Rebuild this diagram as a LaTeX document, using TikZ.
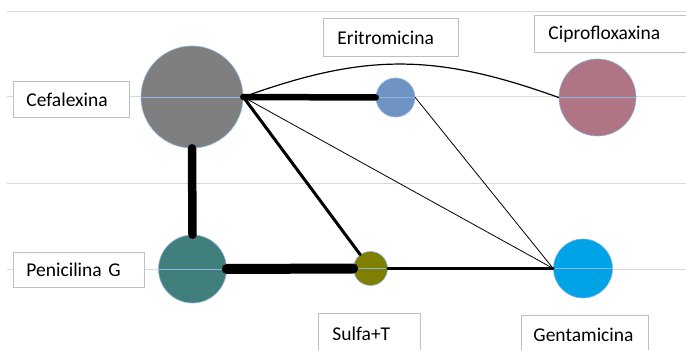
\documentclass[tikz,border=0pt]{standalone}
\usepackage{fontspec}
\setmainfont{Carlito}
\definecolor{gridc}{RGB}{217,217,217}
\definecolor{boxc}{RGB}{191,191,191}
\definecolor{rimc}{RGB}{141,180,226}
\definecolor{cefc}{RGB}{127,127,127}
\definecolor{eritc}{RGB}{111,148,196}
\definecolor{ciproc}{RGB}{176,117,133}
\definecolor{penc}{RGB}{65,127,124}
\definecolor{sulfac}{RGB}{128,128,0}
\definecolor{gentc}{RGB}{0,163,230}
\tikzset{
  gridline/.style={draw=gridc, line width=1pt},
  lbl/.style={draw=boxc, line width=0.9pt, fill=white, anchor=north west, inner ysep=0pt,
    align=left, font=\fontsize{19.5}{23}\selectfont, text=black},
  drug/.style={circle, draw=rimc, line width=0.6pt, inner sep=0pt},
  diam/.style={draw=rimc, line width=0.9pt},
  edge/.style={draw=black, line cap=round},
}
\begin{document}
\begin{tikzpicture}[x=1pt, y=-1pt]
\useasboundingbox (0,0) rectangle (686,350);
\clip (0,0) rectangle (686,350);
\fill[white] (0,0) rectangle (686,350);
% grid lines
\draw[gridline] (7,12) -- (686,12);
\draw[gridline] (7,97) -- (686,97);
\draw[gridline] (7,183.5) -- (686,183.5);
\draw[gridline] (7,269) -- (686,269);
% label boxes
\node[lbl, inner xsep=13pt, text width=90pt, minimum height=36pt] (tcef) at (13,81) {Cefalexina};
\node[lbl, inner xsep=14pt, text width=107pt, minimum height=38pt] (terit) at (323,18) {Eritromicina};
\node[lbl, inner xsep=14pt, text width=140pt, minimum height=37pt] (tcipro) at (534,15) {Ciprofloxaxina};
\node[lbl, inner xsep=13pt, text width=105pt, minimum height=35pt] (tpen) at (13,252) {Penicilina G};
\node[lbl, inner xsep=14pt, text width=74pt, minimum height=40pt] (tsulfa) at (318,313) {Sulfa+T};
\node[lbl, inner xsep=12pt, text width=103pt, minimum height=39pt] (tgent) at (521,315) {Gentamicina};
% drug circles
\node[drug, fill=cefc, minimum size=102pt] (cef) at (192,97) {};
\node[drug, fill=eritc, minimum size=39pt] (erit) at (395.5,97.5) {};
\node[drug, fill=ciproc, minimum size=77pt] (cipro) at (597.5,97.5) {};
\node[drug, fill=penc, minimum size=68pt] (pen) at (192.5,269) {};
\node[drug, fill=sulfac, minimum size=34pt] (sulfa) at (370.5,268.5) {};
\node[drug, fill=gentc, minimum size=59pt] (gent) at (583,268.5) {};
\foreach \n in {cef,erit,cipro,pen,sulfa,gent}{
  \draw[diam] (\n.west) -- (\n.east);
}
% connectors
\draw[edge, line width=1.2pt] (cef.east) .. controls (365,53) and (435,53) .. (cipro.west);
\draw[edge, line width=0.8pt] (cef.east) -- (gent.west);
\draw[edge, line width=0.8pt] (erit.east) -- (gent.west);
\draw[edge, line width=3pt] (cef.east) -- (sulfa);
\draw[edge, line width=2.8pt] (sulfa.east) -- (gent.west);
\draw[edge, line width=6.5pt] (cef.east) -- (erit.west);
\draw[edge, line width=8.5pt] (cef.south) -- (pen.north);
\draw[edge, line width=10pt] (pen.east) -- (sulfa.west);
\end{tikzpicture}
\end{document}
